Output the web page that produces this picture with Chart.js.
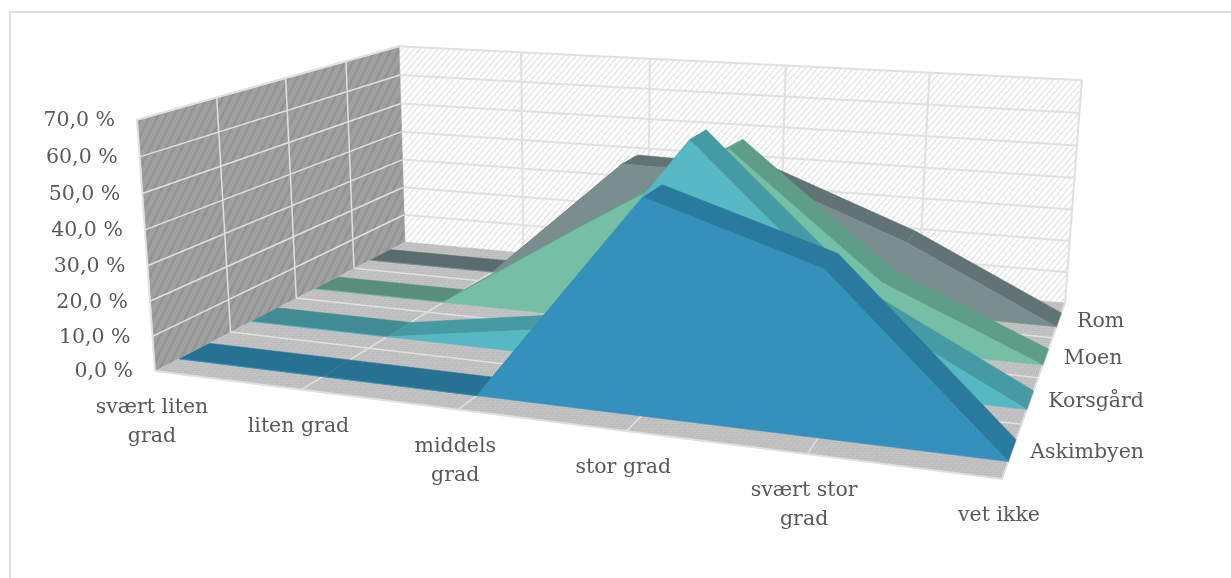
<!DOCTYPE html>
<html>
<head>
<meta charset="utf-8">
<script src="https://cdn.jsdelivr.net/npm/chart.js@4"></script>
<style>
  body { margin: 0; background: #fff; }
  #frame { position: absolute; left: 9px; top: 11px; width: 1300px; height: 640px; border: 2px solid #dedede; }
  #wrap { position: absolute; left: 0; top: 0; width: 1231px; height: 578px; overflow: hidden; }
  canvas { position: absolute; left: 0; top: 0; }
</style>
</head>
<body>
<div id="wrap">
  <div id="frame"></div>
  <canvas id="chart" width="1231" height="578"></canvas>
</div>
<script>
const categories = ["svært liten grad", "liten grad", "middels grad", "stor grad", "svært stor grad", "vet ikke"];
const seriesNames = ["Askimbyen", "Korsgård", "Moen", "Rom"];
const valueTicks = [0, 10, 20, 30, 40, 50, 60, 70];

const askimbyen = [0, 0, 0, 57, 43, 0];
const korsgard = [0, 0, 7, 64.5, 23.5, 0];
const moen = [0, 0, 28, 55, 19.5, 0];
const rom = [0, 0, 40, 39, 22, 0];
const seriesValues = [askimbyen, korsgard, moen, rom];

const frontColors = ["#3391bc", "#56b8c2", "#74bfa6", "#7a8d8f"];
const topColors = ["#2a7a9e", "#459aa3", "#5e9e88", "#617376"];
const flatColors = ["#277293", "#418b92", "#588f7c", "#5b6c6e"];

// plot box corners as they sit on the page
const floorFL = [155, 371], floorFR = [1002, 479], floorBR = [1065, 303], floorBL = [405, 242];
const topFL = [137, 118], topBL = [399, 47], topBR = [1082, 81];
const maxValue = 70;
const gapShare = 0.3;  // share of a series slot left empty on each side

function makeFloorMap() {
  const [x0, y0] = floorFL, [x1, y1] = floorFR, [x2, y2] = floorBR, [x3, y3] = floorBL;
  const dx1 = x1 - x2, dx2 = x3 - x2, sx = x0 - x1 + x2 - x3;
  const dy1 = y1 - y2, dy2 = y3 - y2, sy = y0 - y1 + y2 - y3;
  const den = dx1 * dy2 - dx2 * dy1;
  const g = (sx * dy2 - dx2 * sy) / den;
  const h = (dx1 * sy - sx * dy1) / den;
  return { a: x1 - x0 + g * x1, b: x3 - x0 + h * x3, c: x0, d: y1 - y0 + g * y1, e: y3 - y0 + h * y3, f: y0, g, h };
}
const fm = makeFloorMap();

function solve3(m, r) {
  const a = m.map((row, i) => [...row, r[i]]);
  for (let i = 0; i < 3; i++) {
    let p = i;
    for (let k = i + 1; k < 3; k++) if (Math.abs(a[k][i]) > Math.abs(a[p][i])) p = k;
    [a[i], a[p]] = [a[p], a[i]];
    for (let k = 0; k < 3; k++) {
      if (k === i) continue;
      const q = a[k][i] / a[i][i];
      for (let j = i; j < 4; j++) a[k][j] -= q * a[i][j];
    }
  }
  return a.map((row, i) => row[3] / row[i]);
}

function makeHeightColumn() {
  const known = [[0, 0, topFL], [0, 1, topBL], [1, 1, topBR]];
  const ata = [[0, 0, 0], [0, 0, 0], [0, 0, 0]], atb = [0, 0, 0];
  known.forEach(([u, v, [X, Y]]) => {
    const w = fm.g * u + fm.h * v + 1;
    const nx = fm.a * u + fm.b * v + fm.c, ny = fm.d * u + fm.e * v + fm.f;
    [[[1, 0, -X], X * w - nx], [[0, 1, -Y], Y * w - ny]].forEach(([row, rhs]) => {
      for (let i = 0; i < 3; i++) {
        atb[i] += row[i] * rhs;
        for (let j = 0; j < 3; j++) ata[i][j] += row[i] * row[j];
      }
    });
  });
  return solve3(ata, atb);
}
const hc = makeHeightColumn();

// u: along the categories 0-1, v: into the depth 0-1, value in percent
function project(u, v, value) {
  const t = value / maxValue;
  const w = fm.g * u + fm.h * v + 1 + hc[2] * t;
  return {
    x: (fm.a * u + fm.b * v + fm.c + hc[0] * t) / w,
    y: (fm.d * u + fm.e * v + fm.f + hc[1] * t) / w,
  };
}

function tile(w, h, bg, fg, lw, dots) {
  const c = document.createElement("canvas");
  c.width = w; c.height = h;
  const g = c.getContext("2d");
  g.fillStyle = bg;
  g.fillRect(0, 0, w, h);
  g.strokeStyle = fg;
  g.lineWidth = lw;
  [-w, 0, w].forEach((off) => {
    g.beginPath();
    g.moveTo(off, h);
    g.lineTo(off + w, 0);
    g.stroke();
  });
  if (dots) {
    g.fillStyle = dots;
    for (let y = 0; y < h; y += 2) for (let x = y % 4 ? 1 : 0; x < w; x += 2) g.fillRect(x, y, 1, 1);
  }
  return g.createPattern(c, "repeat");
}

const layers = [];
function polygon(points, color) {
  layers.push({ data: points, showLine: true, fill: "shape", backgroundColor: color, borderColor: color, borderWidth: 0.5, pointRadius: 0, tension: 0 });
}
function line(points, color, width) {
  layers.push({ data: points, showLine: true, fill: false, borderColor: color, borderWidth: width, pointRadius: 0, tension: 0 });
}

const gridColor = "#e0e0e0";
const lastCat = categories.length - 1;
const maxTick = valueTicks[valueTicks.length - 1];

// back wall
polygon([project(0, 1, 0), project(1, 1, 0), project(1, 1, maxTick), project(0, 1, maxTick)], tile(6, 7, "#ffffff", "#e2e2e2", 1.2));
valueTicks.forEach((t) => { if (t) line([project(0, 1, t), project(1, 1, t)], gridColor, 2); });
for (let i = 1; i <= lastCat; i++) line([project(i / lastCat, 1, 0), project(i / lastCat, 1, maxTick)], gridColor, 2);

// side wall
polygon([project(0, 0, 0), project(0, 1, 0), project(0, 1, maxTick), project(0, 0, maxTick)], tile(8, 16, "#a0a0a0", "#929292", 2.5));
valueTicks.forEach((t) => { if (t) line([project(0, 0, t), project(0, 1, t)], gridColor, 1.5); });
for (let i = 1; i < seriesNames.length; i++) line([project(0, i / seriesNames.length, 0), project(0, i / seriesNames.length, maxTick)], gridColor, 1.5);
line([project(0, 0, 0), project(0, 0, maxTick), project(0, 1, maxTick)], gridColor, 2);

// floor
polygon([project(0, 0, 0), project(1, 0, 0), project(1, 1, 0), project(0, 1, 0)], tile(6, 6, "#c4c4c4", "#bcbcbc", 1, "#b8b8b8"));
for (let i = 1; i < seriesNames.length; i++) line([project(0, i / seriesNames.length, 0), project(1, i / seriesNames.length, 0)], gridColor, 1.5);
for (let i = 1; i < lastCat; i++) line([project(i / lastCat, 0, 0), project(i / lastCat, 1, 0)], gridColor, 1.5);
line([project(0, 0, 0), project(1, 0, 0), project(1, 1, 0)], gridColor, 2);

// series, back to front
for (let s = seriesValues.length - 1; s >= 0; s--) {
  const vals = seriesValues[s];
  const slot = 1 / seriesValues.length;
  const vf = (s + gapShare) * slot, vb = (s + 1 - gapShare) * slot;
  vals.forEach((val, i) => {
    if (i === lastCat) return;
    const u0 = i / lastCat, u1 = (i + 1) / lastCat, next = vals[i + 1];
    polygon([project(u0, vf, val), project(u1, vf, next), project(u1, vb, next), project(u0, vb, val)],
      val === 0 && next === 0 ? flatColors[s] : topColors[s]);
  });
  const face = vals.map((val, i) => project(i / lastCat, vf, val));
  face.push(project(1, vf, 0), project(0, vf, 0));
  polygon(face, frontColors[s]);
}

const labelPlugin = {
  id: "labels3d",
  afterDraw(chart) {
    const { ctx, scales } = chart;
    const px = (p) => ({ x: scales.x.getPixelForValue(p.x), y: scales.y.getPixelForValue(p.y) });
    ctx.save();
    ctx.font = "20.5px 'DejaVu Serif'";
    ctx.fillStyle = "#595959";
    ctx.textBaseline = "middle";

    ctx.textAlign = "right";
    valueTicks.forEach((t) => {
      const p = px(project(0, 0, t));
      ctx.fillText(t.toFixed(1).replace(".", ",") + " %", p.x - 22, p.y + 1);
    });

    ctx.textAlign = "left";
    seriesNames.forEach((name, s) => {
      const p = px(project(1, (s + 0.5) / seriesNames.length, 0));
      ctx.fillText(name, p.x + 18, p.y + 2);
    });

    ctx.textAlign = "center";
    const wrapped = [["svært liten", "grad"], ["liten grad"], ["middels", "grad"], ["stor grad"], ["svært stor", "grad"], ["vet ikke"]];
    wrapped.forEach((rows, i) => {
      const p = px(project(i / lastCat, 0, 0));
      rows.forEach((row, r) => ctx.fillText(row, p.x - 3, p.y + 37 + r * 29));
    });
    ctx.restore();
  },
};

new Chart(document.getElementById("chart"), {
  type: "scatter",
  data: { datasets: layers.reverse() },
  options: {
    responsive: false,
    animation: false,
    events: [],
    layout: { padding: 0 },
    plugins: { legend: { display: false }, tooltip: { enabled: false } },
    scales: {
      x: { type: "linear", min: 0, max: 1231, display: false },
      y: { type: "linear", min: 0, max: 578, reverse: true, display: false },
    },
  },
  plugins: [labelPlugin],
});
</script>
</body>
</html>
